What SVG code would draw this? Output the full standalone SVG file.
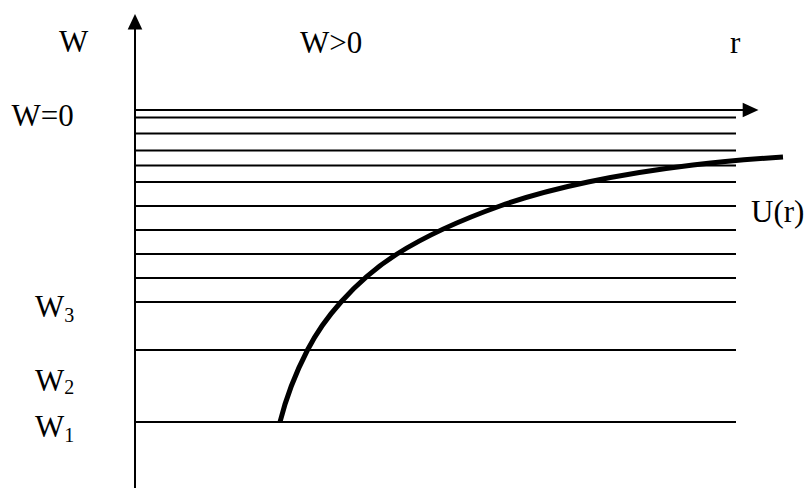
<svg xmlns="http://www.w3.org/2000/svg" width="808" height="488" viewBox="0 0 808 488">
<style>
text{font-family:"Liberation Serif","Times New Roman",serif;font-size:31px;fill:#000}
.sub{font-size:20px}
.lvl{stroke:#000;stroke-width:2;fill:none}
.axis{stroke:#000;stroke-width:2;fill:none}
</style>
<rect width="808" height="488" fill="#fff"/>
<g id="levels" class="lvl">
<line x1="135" y1="117.5" x2="736" y2="117.5"/>
<line x1="135" y1="133.5" x2="736" y2="133.5"/>
<line x1="135" y1="150.5" x2="736" y2="150.5"/>
<line x1="135" y1="165.5" x2="736" y2="165.5"/>
<line x1="135" y1="182" x2="736" y2="182"/>
<line x1="135" y1="206" x2="736" y2="206"/>
<line x1="135" y1="230" x2="736" y2="230"/>
<line x1="135" y1="254" x2="736" y2="254"/>
<line x1="135" y1="278" x2="736" y2="278"/>
<line x1="135" y1="302" x2="736" y2="302"/>
<line x1="135" y1="350" x2="736" y2="350"/>
<line x1="135" y1="422" x2="736" y2="422"/>
</g>
<g id="axes">
<line class="axis" x1="135" y1="28" x2="135" y2="488"/>
<polygon points="135,14 127.7,29.5 142.3,29.5" fill="#000"/>
<line class="axis" x1="135" y1="110" x2="744" y2="110"/>
<polygon points="758.5,110 742.7,102.7 742.7,117.3" fill="#000"/>
</g>
<path id="potential" d="M280,422 C286,398 295.1,374 307.5,350 C315.8,334 326.6,318 341,302 C355.4,286 371.7,270 397,254 C422.3,238 455.1,222 500,206 C522.4,198 549.9,190 588,182 C615,176.3 645.7,170.7 693,165 C715.2,162.3 743,159.7 783,157" fill="none" stroke="#000" stroke-width="5"/>
<g id="labels">
<text x="59" y="52">W</text>
<text x="300" y="53">W&gt;0</text>
<text x="730" y="53">r</text>
<text x="11.5" y="126">W=0</text>
<text x="751" y="221.5">U(r)</text>
<text x="35" y="316.5">W<tspan class="sub" dy="5">3</tspan></text>
<text x="35" y="391">W<tspan class="sub" dy="3">2</tspan></text>
<text x="35" y="436.5">W<tspan class="sub" dy="5">1</tspan></text>
</g>
</svg>
